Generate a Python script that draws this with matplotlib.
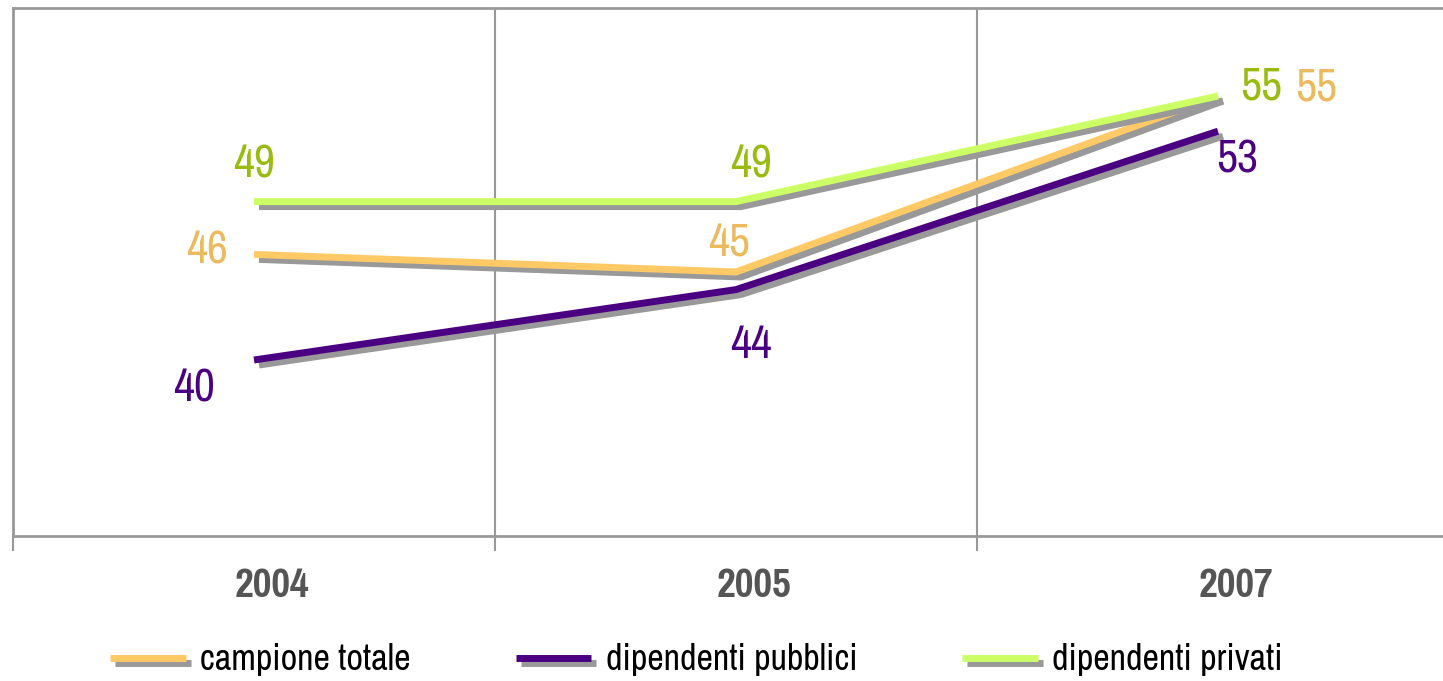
import numpy as np
import matplotlib
matplotlib.use('Agg')
import matplotlib.pyplot as plt
import matplotlib.patheffects as pe
from matplotlib.transforms import ScaledTranslation

plt.rcParams['font.family'] = ['Archivo Narrow', 'DejaVu Sans']

# data
anni = ['2004', '2005', '2007']
campione_totale = [46, 45, 55]
dipendenti_pubblici = [40, 44, 53]
dipendenti_privati = [49, 49, 55]

serie = [
    ('campione totale', campione_totale, '#FFC966', '#EBBA5E'),
    ('dipendenti pubblici', dipendenti_pubblici, '#4B0082', '#4B0082'),
    ('dipendenti privati', dipendenti_privati, '#CCFF66', '#99BB11'),
]
# label offsets in pixels (dx, dy) for each series / point
offsets = [
    [(-47, 4), (-7, 28), (98, 8)],
    [(-60, -28), (15, -55), (19, -28)],
    [(0, 37), (15, 37), (43, 9)],
]

fig = plt.figure(figsize=(14.43, 6.81), dpi=100)
ax = fig.add_axes([13/1443, 145/681, 1446/1443, 528/681])

x = np.arange(len(anni))
shadow = [pe.SimpleLineShadow(offset=(3.6, -3.6), shadow_color='#999999', alpha=1.0), pe.Normal()]
for (nome, vals, col, lcol), offs in zip(serie, offsets):
    ax.plot(x, vals, color=col, lw=5, solid_capstyle='butt', label=nome, path_effects=shadow)
    for xi, v, (dx, dy) in zip(x, vals, offs):
        ax.annotate(str(v), (xi, v), xytext=(dx, dy), textcoords='offset pixels',
                    ha='center', va='center', fontsize=33, color=lcol)

ax.set_xlim(-0.5, 2.5)
ax.set_ylim(30, 60)
ax.set_yticks([])
ax.set_xticks([-0.5, 0.5, 1.5, 2.5])
ax.set_xticklabels([])
ax.tick_params(axis='x', which='major', length=11, width=1.5, color='#999999', direction='out')
ax.set_xticks(x, minor=True)
ax.set_xticklabels(anni, minor=True, fontsize=32, fontweight='bold', color='#555555',
                   family=['Pragati Narrow', 'DejaVu Sans'])
ax.tick_params(axis='x', which='minor', length=0, pad=22)
for lab in ax.get_xticklabels(minor=True):
    lab.set_transform(lab.get_transform() + ScaledTranslation(18/100, 0, fig.dpi_scale_trans))
ax.grid(axis='x', which='major', color='#999999', lw=1.5)
for s in ax.spines.values():
    s.set_color('#999999')
    s.set_linewidth(2)
ax.spines['right'].set_visible(False)

fig.legend(*ax.get_legend_handles_labels(), loc='center left', bbox_to_anchor=(110/1443, 21/681),
           ncol=3, frameon=False, borderpad=0, borderaxespad=0,
           fontsize=26, handlelength=2.1, columnspacing=2.9, handletextpad=0.4)

fig.savefig('out.png', dpi=100)
